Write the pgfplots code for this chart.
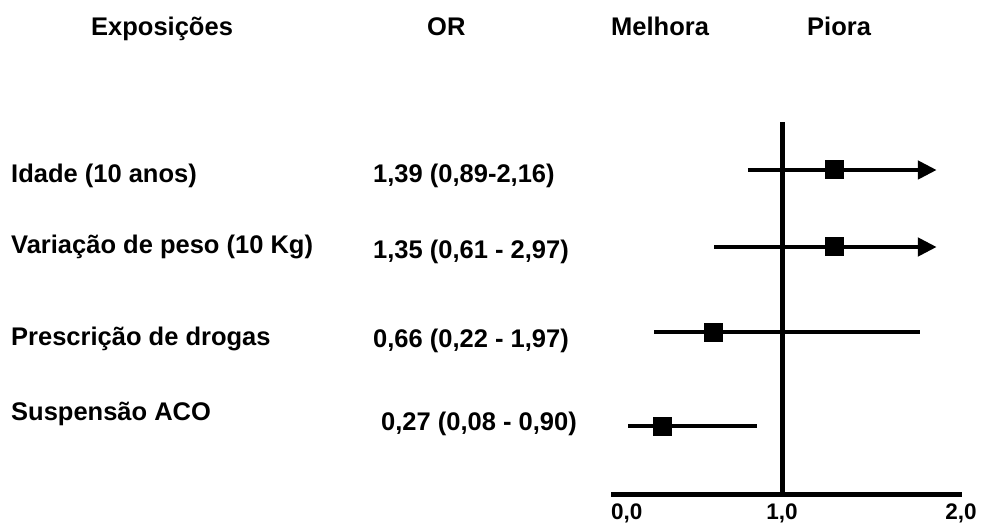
\documentclass[border=0pt]{standalone}
\usepackage{fontspec}
\setmainfont{Liberation Sans}
\usepackage{pgfplots}
\pgfplotsset{compat=1.18}
\usetikzlibrary{arrows.meta}
\begin{document}
\begin{tikzpicture}[every node/.style={inner sep=0pt, font=\bfseries\fontsize{25.5}{30}\selectfont}]
\useasboundingbox (0,0) rectangle (981pt,-526pt);
% headers
\node[anchor=base west] at (91pt,-36pt) {Exposições};
\node[anchor=base west] at (427pt,-36pt) {OR};
\node[anchor=base west] at (611pt,-36pt) {Melhora};
\node[anchor=base west] at (807pt,-36pt) {Piora};
% row labels
\node[anchor=base west] at (11pt,-183pt) {Idade (10 anos)};
\node[anchor=base west] at (11pt,-254pt) {Variação de peso (10 Kg)};
\node[anchor=base west] at (11pt,-345pt) {Prescrição de drogas};
\node[anchor=base west] at (11pt,-420pt) {Suspensão ACO};
% OR values
\node[anchor=base west] at (373pt,-183pt) {1,39 (0,89-2,16)};
\node[anchor=base west] at (373pt,-259pt) {1,35 (0,61 - 2,97)};
\node[anchor=base west] at (373pt,-347pt) {0,66 (0,22 - 1,97)};
\node[anchor=base west] at (381pt,-430pt) {0,27 (0,08 - 0,90)};
\begin{axis}[
  at={(611pt,-494pt)}, anchor=south west,
  scale only axis, width=351pt, height=372pt,
  xmin=0, xmax=2.0526, ymin=0, ymax=372,
  axis x line=bottom, axis y line=none,
  axis line style={line width=5pt, -},
  xtick={0,1,2},
  xticklabels={{\makebox[0pt][l]{0,0}},{1,0},{\hspace{16pt}2,0}},
  major tick length=0pt,
  ytick=\empty,
  xticklabel style={anchor=north, inner sep=0pt, font=\bfseries\fontsize{22.5}{26}\selectfont},
  xticklabel shift=10pt,
  clip=false,
]
\addplot[line width=5pt] coordinates {(1,0) (1,372)};
\addplot[line width=4.7pt, -{Triangle[length=19pt,width=18pt]}] coordinates {(0.800,324) (1.905,324)};
\addplot[line width=4.7pt, -{Triangle[length=19pt,width=18pt]}] coordinates {(0.604,247) (1.905,247)};
\addplot[line width=4.7pt] coordinates {(0.253,162) (1.807,162)};
\addplot[line width=4.7pt] coordinates {(0.101,68) (0.852,68)};
\addplot[only marks, mark=square*, mark size=9pt, mark options={fill=black, draw=black, line width=0pt}]
  coordinates {(1.304,324) (1.304,247) (0.602,162) (0.304,68)};
\end{axis}
\end{tikzpicture}
\end{document}
